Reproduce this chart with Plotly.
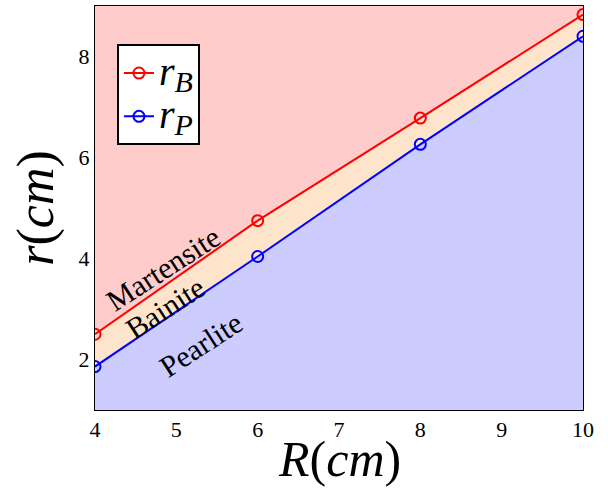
import plotly.graph_objects as go

# Outer radius R and transformation radii
R_cm = [4, 6, 8, 10]
r_B = [2.5, 4.75, 6.78, 8.83]   # bainite start radius
r_P = [1.86, 4.04, 6.26, 8.40]  # pearlite start radius

x_ticks = [4, 5, 6, 7, 8, 9, 10]
y_ticks = [2, 4, 6, 8]

phase_labels = ["Martensite", "Bainite", "Pearlite"]
phase_pos = [(4.84, 3.80), (4.87, 3.02), (5.30, 2.30)]

RED_BG = "rgb(255,204,204)"
PEACH = "rgb(255,228,204)"
BLUE_BG = "rgb(204,204,255)"
SERIF = "Liberation Serif, DejaVu Serif, serif"


def radius_name(sub):
    return ("<span style='font-size:40px'><i>r</i></span>"
            f"<sub><span style='font-size:30px'><i>{sub}</i></span></sub>")


fig = go.Figure()

# Pearlite region below r_P
fig.add_trace(go.Scatter(x=R_cm, y=r_P, mode="none", fill="tozeroy",
                         fillcolor=BLUE_BG, showlegend=False, hoverinfo="skip"))
# Bainite band between r_P and r_B
fig.add_trace(go.Scatter(x=R_cm, y=r_B, mode="none", fill="tonexty",
                         fillcolor=PEACH, showlegend=False, hoverinfo="skip"))

marker_style = dict(symbol="circle-open", size=11, line=dict(width=2))
fig.add_trace(go.Scatter(x=R_cm, y=r_B, mode="lines+markers",
                         name=radius_name("B"),
                         line=dict(color="red", width=2),
                         marker=dict(color="red", **marker_style)))
fig.add_trace(go.Scatter(x=R_cm, y=r_P, mode="lines+markers",
                         name=radius_name("P"),
                         line=dict(color="blue", width=2),
                         marker=dict(color="blue", **marker_style)))

for text, (px, py) in zip(phase_labels, phase_pos):
    fig.add_annotation(x=px, y=py, text=text, showarrow=False, textangle=-33,
                       font=dict(family=SERIF, size=30, color="black"))

# x-axis title sitting at the bottom of the page, under the tick labels
fig.add_annotation(x=0.5, y=-0.195, xref="paper", yref="paper",
                   xanchor="center", yanchor="bottom",
                   text="<i>R</i>(<i>cm</i>)", showarrow=False,
                   font=dict(family=SERIF, size=50, color="black"))

axis_common = dict(showline=True, linecolor="black", linewidth=1, mirror=True,
                   showgrid=False, zeroline=False, ticks="",
                   tickfont=dict(family=SERIF, size=22, color="black"))

fig.update_xaxes(range=[4, 10], tickvals=x_ticks, **axis_common)
fig.update_yaxes(range=[1, 9], tickvals=y_ticks,
                 title=dict(text="<i>r</i>(<i>cm</i>)", standoff=8,
                            font=dict(family=SERIF, size=52, color="black")),
                 **axis_common)

fig.update_layout(
    width=608, height=492,
    margin=dict(l=95, r=25, t=6, b=82),
    paper_bgcolor="white",
    plot_bgcolor=RED_BG,
    legend=dict(x=0.045, y=0.905, xanchor="left", yanchor="top",
                traceorder="normal",
                bgcolor="white", bordercolor="black", borderwidth=2,
                font=dict(family=SERIF, size=31, color="black"),
                itemwidth=30, tracegroupgap=0),
)

fig.write_html("out.html")
